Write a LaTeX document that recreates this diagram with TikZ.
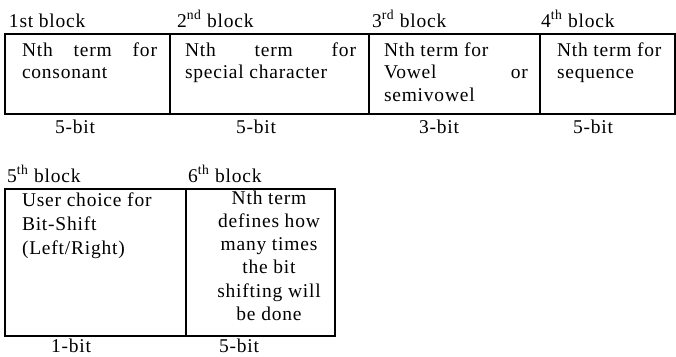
\documentclass[tikz,border=0pt]{standalone}
\usepackage{fontspec}
\setmainfont[LetterSpace=4]{Liberation Serif}
\newcommand{\cellfont}{\fontsize{19.5}{22.5}\selectfont}
\begin{document}
\begin{tikzpicture}[x=1pt,y=-1pt,
  every node/.style={inner sep=0pt, outer sep=0pt},
  cell/.style={draw=black, line width=1.6pt, anchor=north west},
  label/.style={font=\cellfont, anchor=base west},
  bits/.style={font=\cellfont, anchor=base},
  celltext/.style={font=\cellfont, anchor=base west}]
\useasboundingbox (0,0) rectangle (676,356);

% first row of fields
\node[cell, minimum width=165pt, minimum height=80pt] (c1) at (5,34) {};
\node[cell, minimum width=199pt, minimum height=80pt] (c2) at (170,34) {};
\node[cell, minimum width=171pt, minimum height=80pt] (c3) at (369,34) {};
\node[cell, minimum width=135pt, minimum height=80pt] (c4) at (540,34) {};

\node[label] (h1) at (9,27) {1st block};
\node[label] (h2) at (177,27) {2\textsuperscript{nd} block};
\node[label] (h3) at (372,27) {3\textsuperscript{rd} block};
\node[label] (h4) at (541,27) {4\textsuperscript{th} block};

\node[celltext] (t1) at (22,56) {\parbox[t]{135pt}{\cellfont Nth\hfill term\hfill for\\consonant}};
\node[celltext] (t2) at (185,56) {\parbox[t]{171pt}{\cellfont Nth\hfill term\hfill for\\special character}};
\node[celltext] (t3) at (384,56) {\parbox[t]{144pt}{\cellfont Nth term for\\Vowel\hfill or\\semivowel}};
\node[celltext] (t4) at (557,56) {\parbox[t]{115pt}{\cellfont Nth term for\\sequence}};

\node[bits] (b1) at (75,133) {5-bit};
\node[bits] (b2) at (256,133) {5-bit};
\node[bits] (b3) at (439,133) {3-bit};
\node[bits] (b4) at (593,133) {5-bit};

% second row of fields
\node[cell, minimum width=181pt, minimum height=147pt] (c5) at (5,189) {};
\node[cell, minimum width=149pt, minimum height=147pt] (c6) at (186,189) {};

\node[label] (h5) at (7,182) {5\textsuperscript{th} block};
\node[label] (h6) at (188,182) {6\textsuperscript{th} block};

\node[celltext] (t5) at (22,206) {\parbox[t]{160pt}{\fontsize{19.5}{24}\selectfont User choice for\\Bit-Shift\\(Left/Right)}};
\node[celltext, anchor=base] (t6) at (269,204) {\parbox[t]{146pt}{\fontsize{19.5}{23.3}\selectfont\centering Nth term\\defines how\\many times\\the bit\\shifting will\\be done}};

\node[bits] (b5) at (71,352) {1-bit};
\node[bits] (b6) at (239,352) {5-bit};
\end{tikzpicture}
\end{document}
